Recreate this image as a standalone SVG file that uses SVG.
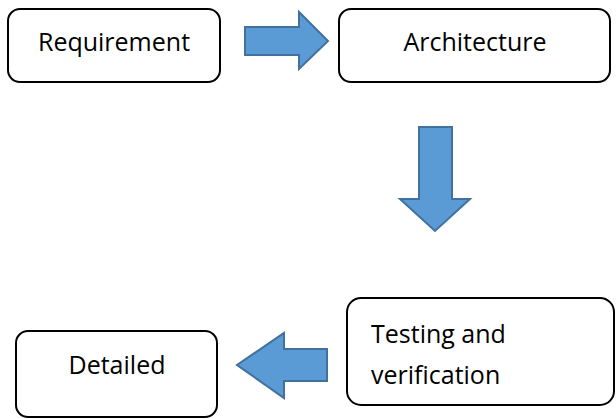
<svg xmlns="http://www.w3.org/2000/svg" width="616" height="419" viewBox="0 0 616 419">
<style>
.box{fill:#fff;stroke:#000;stroke-width:2}
.lbl{font-family:"Open Sans","Liberation Sans",sans-serif;font-size:25px;fill:#000}
.arr{fill:#5B9BD5;stroke:#41719C;stroke-width:2}
</style>
<rect width="616" height="419" fill="#fff"/>
<g id="requirement"><rect class="box" x="8" y="9" width="212" height="73" rx="12"/><text class="lbl" x="114" y="51" text-anchor="middle">Requirement</text></g>
<g id="architecture"><rect class="box" x="339" y="9" width="271" height="73" rx="12"/><text class="lbl" x="475" y="51" text-anchor="middle">Architecture</text></g>
<g id="testing"><rect class="box" x="347" y="298" width="267" height="107" rx="14"/><text class="lbl" x="371" y="343">Testing and</text><text class="lbl" x="371" y="384">verification</text></g>
<g id="detailed"><rect class="box" x="16" y="331" width="201" height="86" rx="12"/><text class="lbl" x="117" y="374" text-anchor="middle">Detailed</text></g>
<g id="connectors">
<polygon class="arr" points="245,27 299,27 299,12 328,41 299,69 299,55 245,55"/>
<polygon class="arr" points="419,127 452,127 452,199 470,199 435,231 400,199 419,199"/>
<polygon class="arr" points="327,349 284,349 284,333 237,365 284,398 284,381 327,381"/>
</g>
</svg>
